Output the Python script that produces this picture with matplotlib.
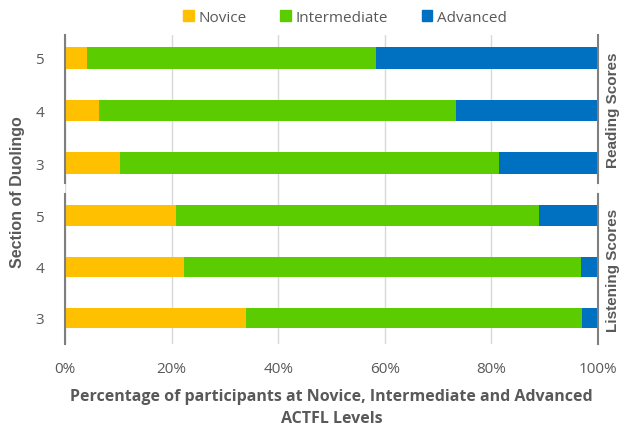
import matplotlib.pyplot as plt
from matplotlib.patches import Patch

# data (percent of participants)
sections = ["3", "4", "5"]
reading_novice = [10.3, 6.4, 4.1]
reading_inter = [71.1, 67.0, 54.2]
reading_adv = [18.6, 26.6, 41.7]
listening_novice = [34.0, 22.3, 20.8]
listening_inter = [63.0, 74.5, 68.1]
listening_adv = [3.0, 3.2, 11.1]

c_nov = "#FFC000"
c_int = "#5BCC00"
c_adv = "#0070C0"
grey = "#595959"

fig = plt.figure(figsize=(6.24, 4.31), dpi=100)
W, H = 624.0, 431.0

def px(l, t, r, b):
    return [l / W, 1 - b / H, (r - l) / W, (b - t) / H]

# background axis for gridlines + x tick labels
bg = fig.add_axes(px(65, 36, 598, 345), zorder=0)
bg.set_xlim(0, 100)
bg.set_ylim(0, 1)
bg.set_xticks([0, 20, 40, 60, 80, 100])
bg.set_xticklabels(["0%", "20%", "40%", "60%", "80%", "100%"],
                   fontsize=11, color=grey, family="Open Sans")
bg.tick_params(axis="x", length=0, pad=12)
bg.set_yticks([])
for s in bg.spines.values():
    s.set_visible(False)
bg.grid(axis="x", color="#D9D9D9", lw=1)
bg.set_xlabel("Percentage of participants at Novice, Intermediate and Advanced\nACTFL Levels",
              fontsize=11.5, fontweight="bold", color=grey, family="Open Sans", labelpad=9,
              linespacing=1.45)

def panel(rect, nov, inter, adv, ylim, side_label):
    ax = fig.add_axes(rect, zorder=1)
    ax.patch.set_alpha(0)
    y = range(len(sections))
    left2 = [a + b for a, b in zip(nov, inter)]
    ax.barh(y, nov, height=0.41, color=c_nov)
    ax.barh(y, inter, left=nov, height=0.41, color=c_int)
    ax.barh(y, adv, left=left2, height=0.41, color=c_adv)
    ax.set_xlim(0, 100)
    ax.set_ylim(*ylim)
    ax.set_xticks([])
    ax.set_yticks(list(y))
    ax.set_yticklabels(sections, fontsize=11, color=grey, family="Open Sans")
    ax.tick_params(axis="y", length=0, pad=15)
    for k in ["top", "bottom"]:
        ax.spines[k].set_visible(False)
    for k in ["left", "right"]:
        ax.spines[k].set_color("#7F7F7F")
        ax.spines[k].set_linewidth(1.5)
    ax.yaxis.set_label_position("right")
    ax.set_ylabel(side_label, fontsize=11, fontweight="bold", color=grey,
                  family="Liberation Sans", labelpad=6)
    return ax

panel(px(65, 36, 598, 184), reading_novice, reading_inter, reading_adv,
      (-0.373, 2.43), "Reading Scores")
panel(px(65, 195, 598, 345), listening_novice, listening_inter, listening_adv,
      (-0.51, 2.43), "Listening Scores")

fig.text(18 / W, 1 - 192 / H, "Section of Duolingo", rotation=90, ha="center", va="center",
         fontsize=11.5, fontweight="bold", color=grey, family="Liberation Sans")

handles = [Patch(color=c_nov, label="Novice"),
           Patch(color=c_int, label="Intermediate"),
           Patch(color=c_adv, label="Advanced")]
leg = fig.legend(handles=handles, loc="center", bbox_to_anchor=(345 / W, 1 - 18 / H),
                 ncol=3, frameon=False, handlelength=0.7, handleheight=0.7,
                 handletextpad=0.3, columnspacing=2.2,
                 prop={"family": "Open Sans", "size": 11})
for t in leg.get_texts():
    t.set_color(grey)

fig.savefig("out.png", dpi=100)
